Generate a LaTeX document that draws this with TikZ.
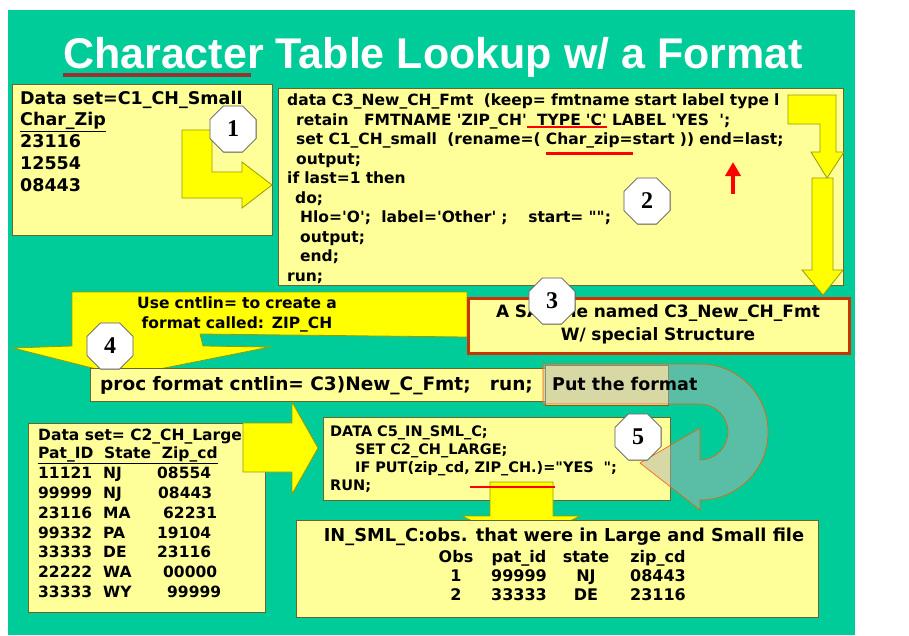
\documentclass[tikz,border=0pt]{standalone}
\usepackage{fontspec}
\setmainfont{DejaVu Sans}
\newfontfamily\arialfont{Liberation Sans}
\newfontfamily\timesfont{Liberation Serif}
\usetikzlibrary{arrows.meta, shapes.geometric}

\definecolor{slidegreen}{RGB}{0,204,153}
\definecolor{paleyellow}{RGB}{255,255,153}
\definecolor{boxedge}{RGB}{102,102,51}
\definecolor{arrowyellow}{RGB}{255,255,0}
\definecolor{arrowedge}{RGB}{153,153,0}
\definecolor{framered}{RGB}{204,51,0}
\definecolor{markred}{RGB}{255,0,0}
\definecolor{titlebar}{RGB}{153,51,51}
\definecolor{octaedge}{RGB}{90,90,90}

\newcommand{\sq}{\textquotesingle}
\newcommand{\dq}{\textquotedbl}
\newcommand{\sizebold}[2]{\fontsize{#1}{#2}\selectfont\bfseries}
% red bar under a piece of code, #1 = drop below the baseline
\newsavebox{\markbox}
\newcommand{\redmarked}[2]{\sbox{\markbox}{#2}\smash{\rlap{\textcolor{markred}{\rule[#1]{\wd\markbox}{2.5pt}}}}\usebox{\markbox}}

\tikzset{
  panel/.style={draw=boxedge, line width=1.2pt, fill=paleyellow, anchor=north west, inner sep=0pt},
  framed/.style={panel, draw=framered, line width=2.5pt},
  txt/.style={anchor=base west, inner sep=0pt, align=left},
  cell/.style={anchor=base, inner sep=0pt},
  bigarrow/.style={fill=arrowyellow, draw=arrowedge, line width=0.8pt},
  octa/.style={regular polygon, regular polygon sides=8, draw=octaedge, line width=0.8pt, fill=white,
    minimum size=50pt, inner sep=0pt, font=\timesfont\sizebold{24}{24}},
  turnarrow/.style={fill=black!30, fill opacity=0.5, draw=orange!70!red, line width=0.6pt},
}

\begin{document}
\begin{tikzpicture}[x=1pt, y=-1pt]
    \useasboundingbox (0,0) rectangle (909,635);
    \fill[slidegreen] (8,10) rectangle (855,635);

    % Title
    \node[anchor=base, inner sep=0pt, text=white, font=\arialfont\sizebold{43}{43}] (title) at (433,68) {Character Table Lookup w/ a Format};
    \draw[titlebar, line width=4pt] ([yshift=-7pt]title.base west) -- ++(188,0);

    % Small data set
    \node[panel, minimum width=260pt, minimum height=151pt] (smallbox) at (12,84) {};
    \node[txt, text width=250pt, font=\sizebold{17.5}{21.8}] (smalltext) at (20,104) {Data set=C1\_CH\_Small\\ \underline{Char\_Zip}\\ 23116\\ 12554\\ 08443};

    % Data step building the format data set
    \node[panel, minimum width=565pt, minimum height=197pt] (codebox) at (278,88) {};
    \node[txt, text width=555pt, font=\sizebold{15.5}{19.5}] (codetext) at (287,105.5) {data C3\_New\_CH\_Fmt\ \ (keep= fmtname start label type l\\
      \hspace*{9pt}retain\ \ \ FMTNAME \sq ZIP\_CH\sq\redmarked{-3pt}{\ \ TYPE \sq C\sq}\ LABEL \sq YES\ \ \sq;\\
      \hspace*{9pt}set C1\_CH\_small\ \ (rename=( \redmarked{-10pt}{Char\_zip=}start )) end=last;\\
      \hspace*{9pt}output;\\
      if last=1 then\\
      \hspace*{8pt}do;\\
      \hspace*{13pt}Hlo=\sq O\sq;\ \ label=\sq Other\sq\ ;\ \ \ \ start= \dq\dq;\\
      \hspace*{13pt}output;\\
      \hspace*{13pt}end;\\
      run;};
    \draw[markred, line width=3.5pt, -{Triangle[length=14pt, width=15pt]}] (733,194) -- (733,162);

    % Arrow 1
    \draw[bigarrow] (182,130) -- (212,130) -- (212,172) -- (242,172) -- (242,162) -- (272,185)
        -- (242,208) -- (242,198) -- (182,198) -- cycle;
    \node[octa] (one) at (233,129) {1};

    % Arrows down the right side
    \draw[bigarrow] (788,95) -- (836,95) -- (836,152) -- (844,152) -- (827,178) -- (811,152)
        -- (820,152) -- (820,124) -- (788,124) -- cycle;
    \draw[bigarrow] (812,178) -- (833,178) -- (833,270) -- (843,270) -- (823,295) -- (802,270)
        -- (812,270) -- cycle;
    \node[octa] (two) at (647,201) {2};

    % Callout
    \draw[bigarrow] (72,292) -- (467,292) -- (467,337) -- (200,334) -- (203,346) -- (270,347)
        -- (124,376) -- (13,348) -- (72,346) -- cycle;
    \node[cell, text width=260pt, align=center, font=\sizebold{15.5}{20}] (calltext) at (237,308.5) {Use cntlin= to create a\\ format called: ZIP\_CH};

    % Format data set
    \node[framed, minimum width=381pt, minimum height=55pt] (fmtbox) at (467,297) {};
    \node[cell, text width=370pt, align=center, font=\sizebold{17}{23}] (fmttext) at (658,317) {A SAS file named C3\_New\_CH\_Fmt\\ W/ special Structure};
    \node[octa] (three) at (552,301) {3};

    % Proc format
    \node[panel, minimum width=455pt, minimum height=33pt] (procbox) at (90,368) {};
    \node[txt, font=\sizebold{18.5}{20}] (proctext) at (100,390.5) {proc format cntlin= C3)New\_C\_Fmt;\ \ \ run;};
    \node[panel, minimum width=123pt, minimum height=40pt] (putbox) at (545,365) {};
    \node[octa] (four) at (110,346) {4};

    % Large data set
    \node[panel, minimum width=237pt, minimum height=189pt] (largebox) at (28,423) {};
    \node[txt, font=\sizebold{15.5}{18}] (largehead) at (38,440.6) {Data set= C2\_CH\_Large};
    \node[txt, font=\sizebold{15.5}{18}] (largecols) at (38,458.6) {\underline{Pat\_ID\ \ State\ \ Zip\_cd}};
    \foreach \pid/\st/\zc/\zx [count=\r] in {11121/NJ/08554/157, 99999/NJ/08443/158, 23116/MA/62231/163,
        99332/PA/19104/157, 33333/DE/23116/157, 22222/WA/00000/163, 33333/WY/99999/167} {
      \pgfmathsetmacro\yy{458.8+19.8*\r}
      \node[txt, font=\sizebold{15.5}{18}] (pid\r) at (38,\yy) {\pid};
      \node[txt, font=\sizebold{15.5}{18}] (st\r) at (103,\yy) {\st};
      \node[txt, font=\sizebold{15.5}{18}] (zc\r) at (\zx,\yy) {\zc};
    }
    \draw[bigarrow] (243,423) -- (292,423) -- (292,402) -- (318,448) -- (292,494) -- (292,472)
        -- (243,472) -- cycle;

    % Data step with PUT
    \node[panel, minimum width=347pt, minimum height=83pt] (putstep) at (323,417) {};
    \draw[bigarrow] (490,482) -- (553,482) -- (553,516) -- (580,516) -- (521,545) -- (462,516)
        -- (490,516) -- cycle;
    \node[txt, text width=340pt, font=\sizebold{14.5}{18}] (putcode) at (330,436) {DATA C5\_IN\_SML\_C;\\
      \hspace*{25pt}SET C2\_CH\_LARGE;\\
      \hspace*{25pt}IF PUT(zip\_cd,\redmarked{-16pt}{\ ZIP\_CH.)=}\dq YES\ \ \dq;\\
      RUN;};

    % Result
    \node[panel, minimum width=522pt, minimum height=97pt] (resultbox) at (296,520) {};
    \node[cell, font=\sizebold{17.8}{20}] (resulthead) at (564,541) {IN\_SML\_C:obs. that were in Large and Small file};
    \foreach \ob/\pid/\st/\zc [count=\r] in {Obs/pat\_id/state/zip\_cd, 1/99999/NJ/08443, 2/33333/DE/23116} {
      \pgfmathsetmacro\yy{543+19*\r}
      \node[cell, font=\sizebold{16}{18}] (obs\r) at (456,\yy) {\ob};
      \node[cell, font=\sizebold{16}{18}] (pat\r) at (519,\yy) {\pid};
      \node[cell, font=\sizebold{16}{18}] (state\r) at (586,\yy) {\st};
      \node[cell, font=\sizebold{16}{18}] (zip\r) at (658,\yy) {\zc};
    }

    % U-turn arrow
    \filldraw[turnarrow] (543,364) -- (700,364) arc[start angle=-90, end angle=90, radius=68]
        -- (700,510) -- (640,463) -- (700,428) -- (700,460) arc[start angle=90, end angle=-90, radius=28]
        -- (543,404) -- cycle;
    \node[txt, font=\sizebold{17.5}{20}] (puttext) at (552,390.5) {Put the format};
    \node[octa] (five) at (638,437) {5};
\end{tikzpicture}
\end{document}
